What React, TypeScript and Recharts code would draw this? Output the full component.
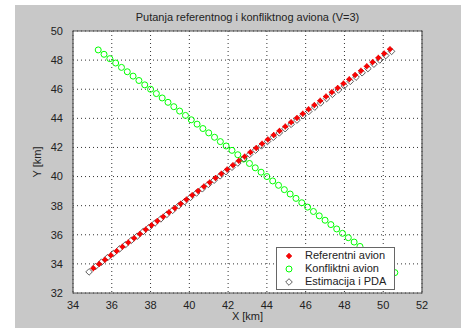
import {
  CartesianGrid,
  Label,
  ReferenceArea,
  Scatter,
  ScatterChart,
  XAxis,
  YAxis,
} from 'recharts'

// referentni avion (red)
const refX = [
  35.05, 35.35, 35.65, 35.95, 36.25, 36.55, 36.85, 37.15, 37.45, 37.75, 38.05, 38.35, 38.65,
  38.95, 39.25, 39.55, 39.85, 40.15, 40.45, 40.75, 41.05, 41.35, 41.65, 41.95, 42.25, 42.55,
  42.85, 43.15, 43.45, 43.75, 44.05, 44.35, 44.65, 44.95, 45.25, 45.55, 45.85, 46.15, 46.45,
  46.75, 47.05, 47.35, 47.65, 47.95, 48.25, 48.55, 48.85, 49.15, 49.45, 49.75, 50.05, 50.35,
]
const refY = [
  33.7, 33.99, 34.29, 34.59, 34.88, 35.18, 35.47, 35.77, 36.06, 36.36, 36.65, 36.95, 37.24,
  37.54, 37.83, 38.13, 38.42, 38.72, 39.01, 39.31, 39.6, 39.9, 40.19, 40.49, 40.78, 41.08,
  41.37, 41.67, 41.96, 42.26, 42.55, 42.85, 43.14, 43.44, 43.73, 44.03, 44.32, 44.62, 44.91,
  45.21, 45.5, 45.8, 46.09, 46.39, 46.68, 46.98, 47.27, 47.57, 47.86, 48.16, 48.45, 48.75,
]

// konfliktni avion (green)
const confX = [
  35.3, 35.6, 35.9, 36.2, 36.5, 36.8, 37.1, 37.4, 37.7, 38.0, 38.3, 38.6, 38.9, 39.2, 39.5,
  39.8, 40.1, 40.4, 40.7, 41.0, 41.3, 41.6, 41.9, 42.2, 42.5, 42.8, 43.1, 43.4, 43.7, 44.0,
  44.3, 44.6, 44.9, 45.2, 45.5, 45.8, 46.1, 46.4, 46.7, 47.0, 47.3, 47.6, 47.9, 48.2, 48.5,
  48.8, 49.1, 49.4, 49.7, 50.0, 50.3, 50.6,
]
const confY = [
  48.7, 48.4, 48.1, 47.8, 47.5, 47.2, 46.9, 46.6, 46.3, 46.0, 45.7, 45.4, 45.1, 44.8, 44.5,
  44.2, 43.9, 43.6, 43.3, 43.0, 42.7, 42.4, 42.1, 41.8, 41.5, 41.2, 40.9, 40.6, 40.3, 40.0,
  39.7, 39.4, 39.1, 38.8, 38.5, 38.2, 37.9, 37.6, 37.3, 37.0, 36.7, 36.4, 36.1, 35.8, 35.5,
  35.2, 34.9, 34.6, 34.3, 34.0, 33.7, 33.4,
]

// estimacija i PDA (black diamonds)
const estX = [
  34.83, 35.16, 35.47, 35.78, 36.08, 36.4, 36.7, 37.01, 37.31, 37.62, 37.92, 38.23, 38.53,
  38.84, 39.14, 39.45, 39.76, 40.06, 40.37, 40.67, 40.98, 41.28, 41.59, 41.89, 42.2, 42.5,
  42.81, 43.11, 43.42, 43.72, 44.03, 44.33, 44.64, 44.94, 45.25, 45.55, 45.86, 46.16, 46.47,
  46.77, 47.08, 47.38, 47.69, 47.99, 48.3, 48.6, 48.91, 49.21, 49.52, 49.82, 50.13, 50.43,
]
const estY = [
  33.45, 33.82, 34.12, 34.43, 34.71, 35.03, 35.31, 35.62, 35.9, 36.22, 36.5, 36.81, 37.09,
  37.4, 37.68, 37.99, 38.28, 38.57, 38.87, 39.16, 39.46, 39.75, 40.05, 40.34, 40.64, 40.93,
  41.23, 41.52, 41.82, 42.11, 42.41, 42.7, 43.0, 43.29, 43.59, 43.88, 44.18, 44.47, 44.77,
  45.06, 45.36, 45.65, 45.95, 46.24, 46.54, 46.83, 47.13, 47.42, 47.72, 48.01, 48.31, 48.6,
]

const xTicks = [34, 36, 38, 40, 42, 44, 46, 48, 50, 52]
const yTicks = [32, 34, 36, 38, 40, 42, 44, 46, 48, 50]

const zip = (xs: number[], ys: number[]) => xs.map((x, i) => ({ x, y: ys[i] }))
const refData = zip(refX, refY)
const confData = zip(confX, confY)
const estData = zip(estX, estY)

const font = '"Liberation Sans", Arial, sans-serif'
const textColor = '#222'

function RefMarker(p: any) {
  const { cx, cy } = p
  return (
    <g stroke="#ff0000" strokeWidth={1.3}>
      <circle cx={cx} cy={cy} r={2} fill="#ff0000" stroke="#b00000" strokeWidth={0.6} />
      <line x1={cx - 3} y1={cy} x2={cx + 3} y2={cy} />
      <line x1={cx} y1={cy - 3} x2={cx} y2={cy + 3} />
    </g>
  )
}

function ConfMarker(p: any) {
  return <circle cx={p.cx} cy={p.cy} r={3} fill="none" stroke="#00ff00" strokeWidth={1} />
}

function EstMarker(p: any) {
  const { cx, cy } = p
  const d = 3.3
  return (
    <path
      d={`M${cx},${cy - d}L${cx + d},${cy}L${cx},${cy + d}L${cx - d},${cy}Z`}
      fill="none"
      stroke="#333"
      strokeWidth={0.8}
    />
  )
}

function App() {
  return (
    <div style={{ position: 'fixed', left: 0, top: 0, width: 461, height: 328, background: '#fff' }}>
      <div style={{ position: 'absolute', left: 15, top: 5, width: 446, height: 323, background: '#c8c8c8' }}>
        <ScatterChart width={446} height={323} margin={{ top: 26, right: 39, bottom: 5, left: 28 }}>
          <CartesianGrid
            fill="#ffffff"
            stroke="#333"
            strokeDasharray="1 3"
            horizontalValues={yTicks}
            verticalValues={xTicks}
          />
          <XAxis
            type="number"
            dataKey="x"
            domain={[34, 52]}
            ticks={xTicks}
            height={30}
            axisLine={false}
            tickLine={false}
            tick={{ fill: textColor, fontSize: 11, fontFamily: font }}
            tickMargin={2}
            interval={0}
          >
            <Label
              value="X [km]"
              position="insideBottom"
              offset={3}
              style={{ fill: textColor, fontSize: 11, fontFamily: font }}
            />
          </XAxis>
          <YAxis
            type="number"
            dataKey="y"
            domain={[32, 50]}
            ticks={yTicks}
            width={30}
            axisLine={false}
            tickLine={false}
            tick={{ fill: textColor, fontSize: 11, fontFamily: font }}
            tickMargin={4}
            interval={0}
          >
            <Label
              value="Y [km]"
              angle={-90}
              position="insideLeft"
              offset={-6}
              style={{ fill: textColor, fontSize: 11, fontFamily: font, textAnchor: 'middle' }}
            />
          </YAxis>
          <ReferenceArea x1={34} x2={52} y1={32} y2={50} fill="none" stroke="#555" strokeWidth={1.2} />
          <Scatter data={confData} shape={ConfMarker} isAnimationActive={false} />
          <Scatter data={estData} shape={EstMarker} isAnimationActive={false} />
          <Scatter data={refData} shape={RefMarker} isAnimationActive={false} />
        </ScatterChart>
      </div>
      <div
        style={{
          position: 'absolute',
          left: 73,
          width: 349,
          top: 11,
          textAlign: 'center',
          fontFamily: font,
          fontSize: 11,
          color: textColor,
        }}
      >
        Putanja referentnog i konfliktnog aviona (V=3)
      </div>
      <div
        style={{
          position: 'absolute',
          left: 276,
          top: 247,
          width: 117,
          height: 41,
          background: '#fff',
          border: '1px solid #666',
          fontFamily: font,
          fontSize: 11,
          color: textColor,
        }}
      >
        <svg width={20} height={41} style={{ position: 'absolute', left: 2, top: 0 }}>
          <RefMarker cx={10} cy={8} />
          <ConfMarker cx={10} cy={21} />
          <EstMarker cx={10} cy={34} />
        </svg>
        <div style={{ position: 'absolute', left: 28, top: 1, lineHeight: '13px', whiteSpace: 'nowrap' }}>
          <div>Referentni avion</div>
          <div>Konfliktni avion</div>
          <div>Estimacija i PDA</div>
        </div>
      </div>
    </div>
  )
}

export default App
